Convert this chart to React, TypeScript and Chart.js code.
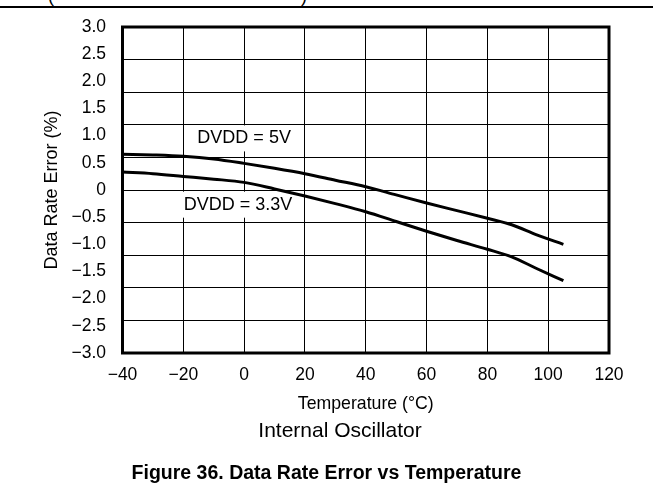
import React, { useEffect, useRef } from "react";
import { Chart, registerables } from "chart.js";

Chart.register(...registerables);

// ---- Data ----
const temperatures = [-40, -30, -20, -10, 0, 10, 20, 30, 40, 50, 60, 70, 80, 88, 96, 105];
const dvdd5V = [0.66, 0.645, 0.62, 0.57, 0.49, 0.4, 0.3, 0.18, 0.06, -0.09, -0.24, -0.38, -0.52, -0.64, -0.82, -1.0];
const dvdd33V = [0.33, 0.3, 0.25, 0.2, 0.14, 0.02, -0.11, -0.25, -0.4, -0.58, -0.76, -0.93, -1.09, -1.23, -1.44, -1.67];

const xTickValues = [-40, -20, 0, 20, 40, 60, 80, 100, 120];
const yTickValues = [3, 2.5, 2, 1.5, 1, 0.5, 0, -0.5, -1, -1.5, -2, -2.5, -3];
const yGridValues = [-3, -2.4, -1.8, -1.2, -0.6, 0, 0.6, 1.2, 1.8, 2.4, 3];

const curveLabelTexts = ["DVDD = 5V", "DVDD = 3.3V"];
const curveLabelX = [0, -2];
const curveLabelY = [0.95, -0.27];

const xTitle = "Temperature (°C)";
const yTitle = "Data Rate Error (%)";
const subTitle = "Internal Oscillator";
const figureTitle = "Figure 36. Data Rate Error vs Temperature";

const FONT = "'Liberation Sans', Arial, Helvetica, sans-serif";

const fmt = (v: number, digits: number) => {
  if (Math.abs(v) < 1e-9) return "0";
  const s = Math.abs(v).toFixed(digits);
  return (v < 0 ? "\u2212" : "") + s;
};

const frameAndLabels = {
  id: "frameAndLabels",
  beforeDatasetsDraw(chart: any) {
    const { ctx, scales } = chart;
    ctx.save();
    ctx.font = `18px ${FONT}`;
    ctx.textAlign = "center";
    ctx.textBaseline = "middle";
    curveLabelTexts.forEach((t, i) => {
      const px = scales.x.getPixelForValue(curveLabelX[i]);
      const py = scales.y.getPixelForValue(curveLabelY[i]);
      const w = ctx.measureText(t).width;
      ctx.fillStyle = "#ffffff";
      ctx.fillRect(px - w / 2 - 5, py - 13, w + 10, 26);
      ctx.fillStyle = "#000000";
      ctx.fillText(t, px, py);
    });
    ctx.restore();
  },
  afterDraw(chart: any) {
    const { ctx, chartArea } = chart;
    ctx.save();
    ctx.strokeStyle = "#000";
    ctx.lineWidth = 3;
    ctx.strokeRect(chartArea.left, chartArea.top, chartArea.right - chartArea.left, chartArea.bottom - chartArea.top);
    ctx.restore();
  },
};

export default function App() {
  const canvasRef = useRef<HTMLCanvasElement | null>(null);

  useEffect(() => {
    if (!canvasRef.current) return;
    const chart = new Chart(canvasRef.current, {
      type: "line",
      data: {
        datasets: [
          {
            label: "DVDD = 5V",
            data: temperatures.map((t, i) => ({ x: t, y: dvdd5V[i] })),
            borderColor: "#000",
            borderWidth: 3,
            pointRadius: 0,
            cubicInterpolationMode: "monotone",
            fill: false,
          },
          {
            label: "DVDD = 3.3V",
            data: temperatures.map((t, i) => ({ x: t, y: dvdd33V[i] })),
            borderColor: "#000",
            borderWidth: 3,
            pointRadius: 0,
            cubicInterpolationMode: "monotone",
            fill: false,
          },
        ],
      },
      options: {
        animation: false,
        responsive: false,
        devicePixelRatio: 1,
        layout: { padding: { top: 23, right: 44, left: 0, bottom: 0 } },
        plugins: { legend: { display: false }, tooltip: { enabled: false } },
        scales: {
          x: {
            type: "linear",
            min: -40,
            max: 120,
            afterBuildTicks: (s: any) => {
              s.ticks = xTickValues.map((v) => ({ value: v }));
            },
            afterFit: (s: any) => {
              s.height = 140;
            },
            ticks: {
              color: "#000",
              padding: 12,
              font: { family: FONT, size: 17.5 },
              callback: (v: any) => fmt(Number(v), 0),
            },
            grid: { color: "#000", lineWidth: 1, drawTicks: false, tickLength: 0 },
            border: { display: false },
            title: {
              display: true,
              text: xTitle,
              color: "#000",
              font: { family: FONT, size: 17.7 },
              padding: { top: 0, bottom: 78.7 },
            },
          },
          y: {
            type: "linear",
            position: "left",
            min: -3,
            max: 3,
            afterBuildTicks: (s: any) => {
              s.ticks = yTickValues.map((v) => ({ value: v }));
            },
            afterFit: (s: any) => {
              s.width = 122.5;
            },
            ticks: {
              color: "#000",
              padding: 16.5,
              font: { family: FONT, size: 17.5 },
              callback: (v: any) => fmt(Number(v), 1),
            },
            grid: { display: false, drawTicks: false, tickLength: 0 },
            border: { display: false },
            title: {
              display: true,
              text: yTitle,
              color: "#000",
              font: { family: FONT, size: 18 },
              padding: { top: 41.7, bottom: 0 },
            },
          },
          y2: {
            type: "linear",
            position: "right",
            min: -3,
            max: 3,
            afterBuildTicks: (s: any) => {
              s.ticks = yGridValues.map((v) => ({ value: v }));
            },
            afterFit: (s: any) => {
              s.width = 0;
            },
            ticks: { display: false },
            grid: { color: "#000", lineWidth: 1, drawTicks: false, tickLength: 0 },
            border: { display: false },
          },
        },
      },
      plugins: [frameAndLabels],
    } as any);
    return () => chart.destroy();
  }, []);

  return (
    <div
      style={{
        position: "fixed",
        left: 0,
        top: 0,
        width: 653,
        height: 493,
        background: "#fff",
        overflow: "hidden",
        fontFamily: FONT,
        color: "#000",
      }}
    >
      <div style={{ position: "absolute", left: 0, top: 0, width: 653, height: 6, overflow: "hidden" }}>
        <span style={{ position: "absolute", left: 48, top: -13, fontSize: 18, lineHeight: "18px" }}>(</span>
        <span style={{ position: "absolute", left: 301, top: -13, fontSize: 18, lineHeight: "18px" }}>)</span>
      </div>
      <div style={{ position: "absolute", left: 0, top: 6, width: 653, height: 2, background: "#000" }} />
      <canvas ref={canvasRef} width={653} height={493} style={{ position: "absolute", left: 0, top: 0 }} />
      <div
        style={{
          position: "absolute",
          left: 340 - 150,
          width: 300,
          top: 429 - 10.5,
          fontSize: 21,
          lineHeight: "21px",
          textAlign: "center",
          whiteSpace: "nowrap",
        }}
      >
        {subTitle}
      </div>
      <div
        style={{
          position: "absolute",
          left: 0,
          width: 653,
          top: 473 - 9.75,
          fontSize: 19.5,
          lineHeight: "19.5px",
          fontWeight: "bold",
          textAlign: "center",
          whiteSpace: "nowrap",
        }}
      >
        {figureTitle}
      </div>
    </div>
  );
}
